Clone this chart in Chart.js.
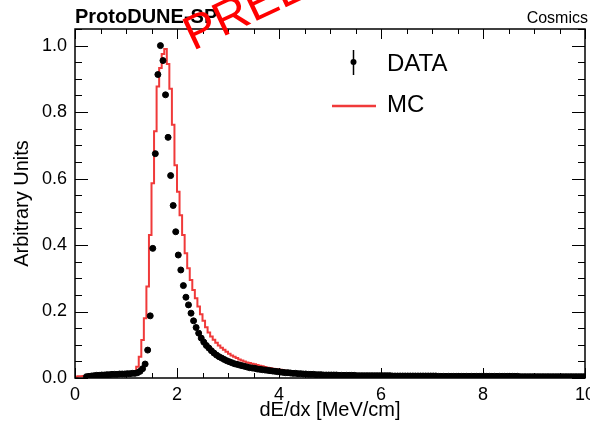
<!DOCTYPE html>
<html lang="en">
<head>
<meta charset="UTF-8">
<title>ProtoDUNE-SP dE/dx</title>
<script src="https://cdn.jsdelivr.net/npm/chart.js"></script>
<style>
  html, body { margin: 0; padding: 0; background: #fff; }
</style>
</head>
<body>
<canvas id="dedxChart" width="590" height="424"></canvas>
<script>
// binning: 200 bins of 0.05 MeV/cm between 0 and 10
var binWidth = 0.05;
var xTickValues = [0, 2, 4, 6, 8, 10];
var xTickLabels = ['0', '2', '4', '6', '8', '10'];
var yTickValues = [0, 0.2, 0.4, 0.6, 0.8, 1.0];
var yTickLabels = ['0.0', '0.2', '0.4', '0.6', '0.8', '1.0'];

// DATA, one value per bin
var dataValues = [
  null, null, null, null, 0.004, 0.005, 0.006, 0.007, 0.008, 0.008,
  0.009, 0.009, 0.010, 0.010, 0.011, 0.011, 0.011, 0.012, 0.012, 0.012,
  0.013, 0.013, 0.014, 0.014, 0.016, 0.020, 0.028, 0.042, 0.084, 0.187,
  0.390, 0.675, 0.913, 1.000, 0.955, 0.852, 0.724, 0.609, 0.519, 0.440,
  0.370, 0.325, 0.278, 0.243, 0.220, 0.195, 0.172, 0.152, 0.135, 0.120,
  0.108, 0.098, 0.090, 0.082, 0.075, 0.069, 0.064, 0.060, 0.056, 0.052,
  0.049, 0.046, 0.043, 0.041, 0.039, 0.037, 0.035, 0.033, 0.031, 0.030,
  0.029, 0.027, 0.026, 0.025, 0.024, 0.023, 0.022, 0.021, 0.020, 0.019,
  0.018, 0.017, 0.016, 0.016, 0.015, 0.014, 0.014, 0.013, 0.013, 0.012,
  0.012, 0.011, 0.011, 0.011, 0.010, 0.010, 0.010, 0.009, 0.009, 0.009,
  0.009, 0.009, 0.009, 0.008, 0.008, 0.008, 0.008, 0.008, 0.008, 0.008,
  0.007, 0.007, 0.007, 0.007, 0.007, 0.007, 0.007, 0.007, 0.007, 0.007,
  0.007, 0.007, 0.007, 0.007, 0.006, 0.006, 0.006, 0.006, 0.006, 0.006,
  0.006, 0.006, 0.006, 0.006, 0.006, 0.006, 0.006, 0.006, 0.006, 0.006,
  0.006, 0.006, 0.005, 0.005, 0.005, 0.005, 0.005, 0.005, 0.005, 0.005,
  0.005, 0.005, 0.005, 0.005, 0.005, 0.005, 0.005, 0.005, 0.005, 0.005,
  0.005, 0.005, 0.005, 0.005, 0.005, 0.005, 0.005, 0.005, 0.005, 0.005,
  0.005, 0.005, 0.005, 0.005, 0.004, 0.004, 0.004, 0.004, 0.004, 0.004,
  0.004, 0.004, 0.004, 0.004, 0.004, 0.004, 0.004, 0.004, 0.004, 0.004,
  0.004, 0.004, 0.004, 0.004, 0.004, 0.004, 0.004, 0.004, 0.004, 0.004
];

// MC histogram, one value per bin
var mcValues = [
  0.004, 0.005, 0.005, 0.006, 0.006, 0.007, 0.007, 0.007, 0.008, 0.008,
  0.008, 0.009, 0.009, 0.009, 0.010, 0.010, 0.010, 0.011, 0.011, 0.011,
  0.012, 0.013, 0.015, 0.020, 0.034, 0.064, 0.114, 0.180, 0.275, 0.430,
  0.586, 0.742, 0.877, 0.933, 0.975, 0.990, 0.945, 0.870, 0.762, 0.640,
  0.560, 0.490, 0.430, 0.375, 0.330, 0.295, 0.265, 0.240, 0.215, 0.192,
  0.172, 0.153, 0.137, 0.125, 0.115, 0.106, 0.098, 0.091, 0.085, 0.079,
  0.073, 0.068, 0.064, 0.060, 0.056, 0.053, 0.050, 0.047, 0.045, 0.043,
  0.041, 0.039, 0.037, 0.035, 0.033, 0.031, 0.030, 0.028, 0.027, 0.026,
  0.025, 0.024, 0.022, 0.021, 0.020, 0.019, 0.018, 0.017, 0.016, 0.016,
  0.015, 0.014, 0.014, 0.013, 0.013, 0.012, 0.012, 0.011, 0.011, 0.010,
  0.010, 0.010, 0.009, 0.009, 0.009, 0.009, 0.008, 0.008, 0.008, 0.008,
  0.008, 0.007, 0.007, 0.007, 0.007, 0.007, 0.007, 0.007, 0.007, 0.007,
  0.007, 0.007, 0.007, 0.006, 0.006, 0.006, 0.006, 0.006, 0.006, 0.006,
  0.006, 0.006, 0.006, 0.006, 0.006, 0.006, 0.006, 0.006, 0.006, 0.006,
  0.006, 0.005, 0.005, 0.005, 0.005, 0.005, 0.005, 0.005, 0.005, 0.005,
  0.005, 0.005, 0.005, 0.005, 0.005, 0.005, 0.005, 0.005, 0.005, 0.005,
  0.005, 0.005, 0.004, 0.004, 0.004, 0.004, 0.004, 0.004, 0.004, 0.004,
  0.004, 0.004, 0.004, 0.004, 0.004, 0.004, 0.004, 0.004, 0.004, 0.004,
  0.004, 0.004, 0.003, 0.003, 0.003, 0.003, 0.003, 0.003, 0.003, 0.003,
  0.003, 0.003, 0.003, 0.003, 0.003, 0.003, 0.003, 0.003, 0.003, 0.003
];

var FONT = '"Liberation Sans", Arial, Helvetica, sans-serif';
var MC_RED = '#f03a3a';

// data points sit at bin centres
var dataPoints = [];
dataValues.forEach(function (v, i) {
  if (v !== null) dataPoints.push({ x: (i + 0.5) * binWidth, y: v });
});

// MC drawn as a step histogram from the bin low edges
var mcPoints = mcValues.map(function (v, i) { return { x: i * binWidth, y: v }; });
mcPoints.push({ x: mcValues.length * binWidth, y: mcValues[mcValues.length - 1] });

Chart.defaults.color = '#000';
Chart.defaults.font.family = FONT;

// ROOT-like frame, inward ticks, titles, legend and watermark
var rootStyle = {
  id: 'rootStyle',
  afterDraw: function (chart) {
    var ctx = chart.ctx;
    var a = chart.chartArea;
    var xs = chart.scales.x, ys = chart.scales.y;
    ctx.save();
    ctx.strokeStyle = '#000';
    ctx.lineWidth = 1.5;
    ctx.strokeRect(a.left, a.top, a.right - a.left, a.bottom - a.top);

    ctx.lineWidth = 1;
    ctx.beginPath();
    for (var k = 0; k <= 20; k++) {
      var px = Math.round(xs.getPixelForValue(k * 0.5)) + 0.5;
      var len = (k % 4 === 0) ? 10 : 5;
      ctx.moveTo(px, a.bottom); ctx.lineTo(px, a.bottom - len);
      ctx.moveTo(px, a.top); ctx.lineTo(px, a.top + len);
    }
    for (var j = 0; j <= 21; j++) {
      var py = Math.round(ys.getPixelForValue(j * 0.05)) + 0.5;
      if (py < a.top) continue;
      var l2 = (j % 4 === 0) ? 13 : 7;
      ctx.moveTo(a.left, py); ctx.lineTo(a.left + l2, py);
      ctx.moveTo(a.right, py); ctx.lineTo(a.right - l2, py);
    }
    ctx.stroke();

    // axis titles
    ctx.fillStyle = '#000';
    ctx.font = '20px ' + FONT;
    ctx.textAlign = 'center';
    ctx.textBaseline = 'middle';
    ctx.fillText('dE/dx [MeV/cm]', (a.left + a.right) / 2, 410);
    ctx.save();
    ctx.translate(22, (a.top + a.bottom) / 2);
    ctx.rotate(-Math.PI / 2);
    ctx.fillText('Arbitrary Units', 0, 0);
    ctx.restore();

    // header texts
    ctx.textBaseline = 'alphabetic';
    ctx.textAlign = 'left';
    ctx.font = 'bold 20px ' + FONT;
    ctx.fillText('ProtoDUNE-SP', 75, 23);
    ctx.textAlign = 'right';
    ctx.font = '16px ' + FONT;
    ctx.fillText('Cosmics', 588, 23);

    // legend
    ctx.textAlign = 'left';
    ctx.textBaseline = 'middle';
    ctx.font = '24px ' + FONT;
    ctx.beginPath();
    ctx.moveTo(353.5, 50); ctx.lineTo(353.5, 75);
    ctx.lineWidth = 1.5;
    ctx.stroke();
    ctx.beginPath();
    ctx.arc(353.5, 62, 3, 0, Math.PI * 2);
    ctx.fill();
    ctx.fillText('DATA', 387, 64);
    ctx.strokeStyle = MC_RED;
    ctx.lineWidth = 2.5;
    ctx.beginPath();
    ctx.moveTo(332, 106); ctx.lineTo(376, 106);
    ctx.stroke();
    ctx.fillText('MC', 387, 105);

    // watermark
    ctx.save();
    ctx.translate(193, 51);
    ctx.rotate(-0.44);
    ctx.fillStyle = '#ff0000';
    ctx.font = '48px ' + FONT;
    ctx.textAlign = 'left';
    ctx.textBaseline = 'alphabetic';
    ctx.fillText('PRELIMINARY', 0, 0);
    ctx.restore();
    ctx.restore();
  }
};

function setTicks(values) {
  return function (s) { s.ticks = values.map(function (v) { return { value: v }; }); };
}

var ctx = document.getElementById('dedxChart').getContext('2d');
var chart = new Chart(ctx, {
  type: 'scatter',
  data: {
    datasets: [
      {
        label: 'DATA',
        data: dataPoints,
        backgroundColor: '#000',
        borderColor: '#000',
        pointRadius: 3,
        pointHoverRadius: 3,
        order: 0
      },
      {
        type: 'line',
        label: 'MC',
        data: mcPoints,
        stepped: 'before',
        borderColor: MC_RED,
        borderWidth: 2,
        pointRadius: 0,
        fill: false,
        order: 1
      }
    ]
  },
  options: {
    responsive: false,
    devicePixelRatio: 1,
    animation: false,
    layout: { padding: { top: 29, right: 5, left: 0, bottom: 0 } },
    plugins: { legend: { display: false }, tooltip: { enabled: false } },
    scales: {
      x: {
        type: 'linear',
        min: 0,
        max: 10,
        grid: { display: false, drawTicks: false },
        border: { display: false },
        afterBuildTicks: setTicks(xTickValues),
        ticks: {
          padding: 6,
          maxRotation: 0,
          autoSkip: false,
          font: { size: 18 },
          callback: function (v, i) { return xTickLabels[i]; }
        },
        afterFit: function (s) { s.height = 46; s.paddingLeft = 0; s.paddingRight = 0; }
      },
      y: {
        min: 0,
        max: 1.05,
        grid: { display: false, drawTicks: false },
        border: { display: false },
        afterBuildTicks: setTicks(yTickValues),
        ticks: {
          padding: 8,
          autoSkip: false,
          font: { size: 18 },
          callback: function (v, i) { return yTickLabels[i]; }
        },
        afterFit: function (s) { s.width = 75; s.paddingTop = 0; s.paddingBottom = 0; }
      }
    }
  },
  plugins: [rootStyle]
});
</script>
</body>
</html>
